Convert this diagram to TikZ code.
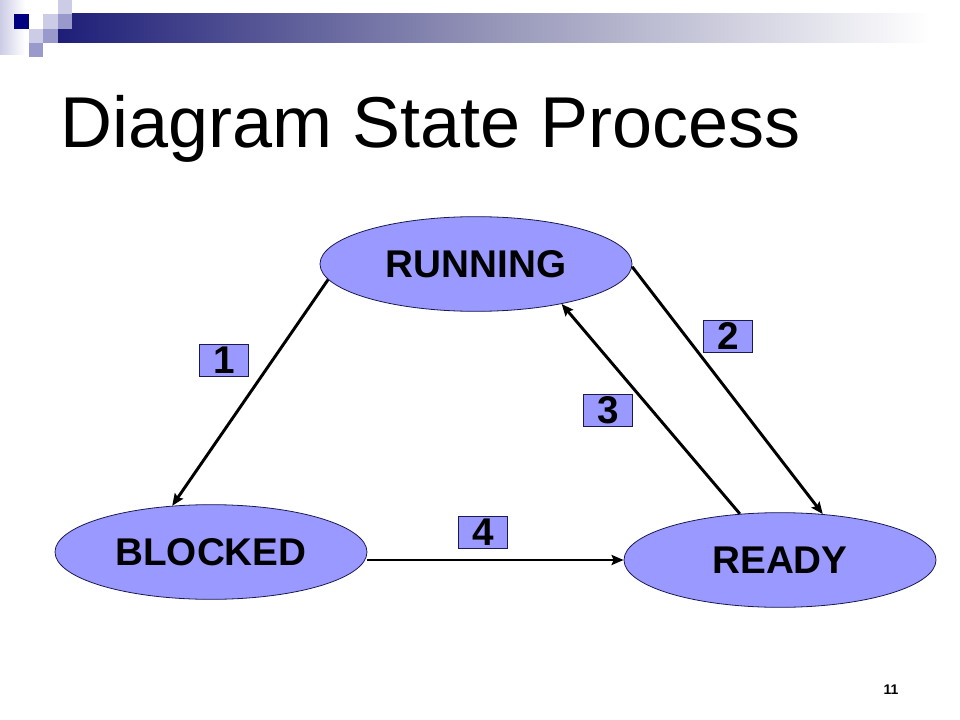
\documentclass[tikz,border=0pt]{standalone}
\usepackage{fontspec}
\setmainfont{Liberation Sans}
\usepackage{tikz}
\usetikzlibrary{arrows.meta,positioning,shapes.geometric}
\definecolor{statefill}{RGB}{153,153,255}
\definecolor{stateline}{RGB}{26,26,80}
\definecolor{navy}{RGB}{0,0,128}
\definecolor{barnavy}{RGB}{30,30,120}
\definecolor{barmid}{RGB}{150,150,185}
\definecolor{paleblock}{RGB}{204,204,230}
\definecolor{midblock}{RGB}{153,153,204}

\begin{document}
\begin{tikzpicture}[x=0.75pt,y=-0.75pt,
  state/.style={ellipse, draw=stateline, fill=statefill, line width=0.6pt, minimum width=234pt, minimum height=71pt, inner sep=0pt, font=\fontsize{29}{32}\selectfont\bfseries},
  tag/.style={draw=stateline, fill=statefill, line width=0.6pt, minimum width=36.75pt, minimum height=24pt, inner sep=0pt, font=\fontsize{29}{30}\selectfont\bfseries},
  move/.style={-{Stealth[length=9pt,width=7.5pt,inset=1.5pt]}, line width=2.2pt}]
\fill[white] (0,0) rectangle (960,720);
\useasboundingbox (0,0) rectangle (960,720);

\shade[left color=paleblock, right color=white] (0,0) rectangle (25,55);
\shade[left color=barnavy, right color=white, middle color=barmid] (58,14) rectangle (930,43);
\fill[navy] (14,14) rectangle (29,29);
\fill[paleblock] (43,14) rectangle (58,29);
\fill[paleblock] (58,0) rectangle (72,14);
\fill[midblock] (58,14) rectangle (72,29);
\fill[paleblock] (29,29) rectangle (43,43);
\fill[midblock] (43,29) rectangle (58,43);
\fill[midblock] (29,43) rectangle (43,57);

\node[anchor=base west, font=\fontsize{54}{60}\selectfont] (title) at (56,148) {Diagram State Process};
\node[font=\fontsize{10.5}{12}\selectfont\bfseries] (pagenum) at (891,690) {11};

\node[state] (running) at (476,264) {RUNNING};
\node[state] (blocked) at (211,552) {BLOCKED};
\node[state] (ready) at (780,560) {READY};

\node[tag] (t1) at (224,360) {1};
\node[tag] (t2) at (728,336) {2};
\node[tag] (t3) at (608,410) {3};
\node[tag] (t4) at (483,532) {4};

\draw[move] (running.186) -- (blocked.130);
\draw[move] (running.-1) -- (ready.47);
\draw[move] (ready.131) -- (running.-25);
\draw[move] (blocked.east |- ready.west) -- (ready.west);
\end{tikzpicture}
\end{document}
